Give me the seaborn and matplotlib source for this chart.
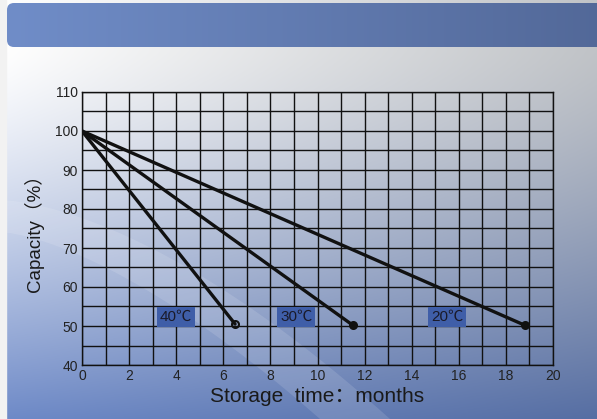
import numpy as np
import pandas as pd
import matplotlib
matplotlib.use('Agg')
import matplotlib.pyplot as plt
from matplotlib.patches import FancyBboxPatch, Polygon
import seaborn as sns

# data
temps = ['40℃', '30℃', '20℃']
end_month = [6.5, 11.5, 18.8]
end_cap = [50.5, 50.2, 50.2]
start_month = 0
start_cap = 100
label_x = [4.0, 9.1, 15.5]
label_y = 52.3
x_ticks = list(range(0, 21, 2))
y_ticks = list(range(40, 111, 10))

rows = []
for t, m, c in zip(temps, end_month, end_cap):
    rows.append({'month': start_month, 'cap': start_cap, 'temp': t})
    rows.append({'month': m, 'cap': c, 'temp': t})
df = pd.DataFrame(rows)

sns.set_style('white')
plt.rcParams['font.family'] = ['Liberation Sans', 'Noto Sans CJK SC', 'DejaVu Sans']

W, H = 597, 419
fig = plt.figure(figsize=(W / 100, H / 100), dpi=100)

# background gradient
bg = fig.add_axes([0, 0, 1, 1])
bg.set_axis_off()
xx = np.linspace(0, 1, W)[None, :, None]
yy = np.clip((np.linspace(0, 1, H)[:, None, None] - 0.12) / 0.88, 0, 1) ** 1.3
top = np.array([255, 255, 255]) * (1 - xx) + np.array([192, 195, 199]) * xx
bot = np.array([110, 138, 200]) * (1 - xx) + np.array([86, 110, 163]) * xx
img = (top * (1 - yy) + bot * yy) / 255
bg.imshow(img, extent=[0, W, H, 0], aspect='auto')
# faint curved band
s = np.linspace(0, 1, 30)
upper = np.c_[s * 390, 200 + 219 * s ** 1.6]
lower = np.c_[s * 320, 232 + 187 * s ** 1.5]
band = Polygon(np.vstack([upper, lower[::-1]]), closed=True, fc='white', ec='none',
               alpha=0.12, zorder=1)
bg.add_patch(band)
bg.axvspan(0, 6, color='#f2f2f2', zorder=2)

# title bar
bar_grad = np.zeros((1, 200, 3))
c1 = np.array([112, 141, 200]) / 255
c2 = np.array([82, 104, 152]) / 255
t = np.linspace(0, 1, 200)[:, None]
bar_grad[0] = c1 * (1 - t) + c2 * t
patch = FancyBboxPatch((7, 3), 600, 44, boxstyle='round,pad=0,rounding_size=7',
                       transform=bg.transData, facecolor='none', edgecolor='none')
bg.add_patch(patch)
im = bg.imshow(bar_grad, extent=[7, 607, 47, 3], aspect='auto', zorder=3)
im.set_clip_path(patch)
bg.set_xlim(0, W)
bg.set_ylim(H, 0)

# main chart
ax = fig.add_axes([82 / W, 1 - 365 / H, (553 - 82) / W, (365 - 92) / H])
ax.patch.set_alpha(0)
sns.lineplot(data=df, x='month', y='cap', units='temp', estimator=None,
             color='#111111', linewidth=2.4, ax=ax, legend=False)
for i, (m, c) in enumerate(zip(end_month, end_cap)):
    face = 'none' if i == 0 else '#111111'
    ax.plot(m, c, 'o', ms=5, mfc=face, mec='#111111', mew=1.5, zorder=5)
for t_lab, lx in zip(temps, label_x):
    ax.text(lx, label_y, t_lab, ha='center', va='center', fontsize=11, color='#1a1a2a',
            bbox=dict(boxstyle='square,pad=0.2', fc='#3f5ea8', ec='none'), zorder=6)

ax.set_xlim(0, 20)
ax.set_ylim(40, 110)
ax.set_xticks(np.arange(0, 21, 1), minor=True)
ax.set_yticks(np.arange(40, 111, 5), minor=True)
ax.set_xticks(x_ticks)
ax.set_yticks(y_ticks)
ax.grid(True, which='both', color='#111111', linewidth=1)
ax.set_axisbelow(True)
for sp in ax.spines.values():
    sp.set_color('#111111')
    sp.set_linewidth(1)
ax.tick_params(which='both', length=0, labelsize=10, colors='#222222', pad=3)
ax.set_xlabel('Storage  time：months', fontsize=15, color='#1a1a1a', labelpad=3)
ax.set_ylabel('Capacity（%）', fontsize=13.5, color='#1a1a1a', labelpad=8)

fig.savefig('out.png', dpi=100)
